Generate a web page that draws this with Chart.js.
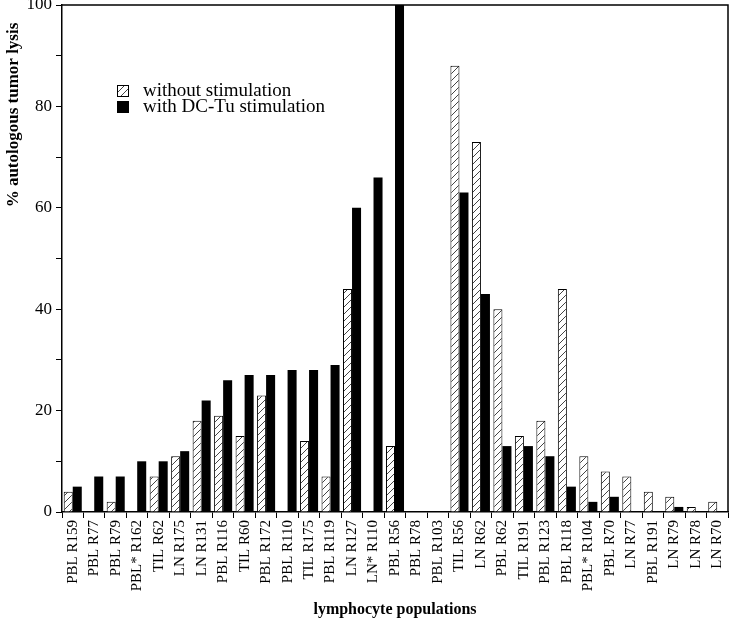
<!DOCTYPE html>
<html>
<head>
<meta charset="utf-8">
<script src="https://cdn.jsdelivr.net/npm/chart.js@4/dist/chart.umd.min.js"></script>
<style>
  html, body { margin: 0; padding: 0; background: #fff; }
  #wrap { width: 730px; height: 622px; }
</style>
</head>
<body>
<div id="wrap"><canvas id="lysis" width="730" height="622"></canvas></div>
<script>
// data
var populations = [
  "PBL R159", "PBL R77", "PBL R79", "PBL* R162", "TIL R62", "LN R175", "LN R131",
  "PBL R116", "TIL R60", "PBL R172", "PBL R110", "TIL R175", "PBL R119", "LN R127",
  "LN* R110", "PBL R56", "PBL R78", "PBL R103", "TIL R56", "LN R62", "PBL R62",
  "TIL R191", "PBL R123", "PBL R118", "PBL* R104", "PBL R70", "LN R77", "PBL R191",
  "LN R79", "LN R78", "LN R70"
];
var withoutStim = [4, 0, 2, 0, 7, 11, 18, 19, 15, 23, 0, 14, 7, 44, 0, 13, 0, 0,
                   88, 73, 40, 15, 18, 44, 11, 8, 7, 4, 3, 1, 2];
var withStim = [5, 7, 7, 10, 10, 12, 22, 26, 27, 27, 28, 28, 29, 60, 66, 100, 0, 0,
                63, 43, 13, 13, 11, 5, 2, 3, 0, 0, 1, 0, 0];
var seriesNames = ["without stimulation", "with DC-Tu stimulation"];

var serif = "'Liberation Serif', 'DejaVu Serif', serif";

function hatch() {
  var c = document.createElement('canvas');
  c.width = 7; c.height = 7;
  var g = c.getContext('2d');
  g.fillStyle = '#fff';
  g.fillRect(0, 0, 7, 7);
  g.strokeStyle = '#444';
  g.lineWidth = 1;
  g.beginPath();
  g.moveTo(-1, 8); g.lineTo(8, -1);
  g.stroke();
  return g.createPattern(c, 'repeat');
}
var hatchFill = hatch();

// box on top / right, legend and y title drawn inside the plot
var extras = {
  id: 'extras',
  afterDraw: function(chart) {
    var ctx = chart.ctx, a = chart.chartArea;
    ctx.save();
    ctx.strokeStyle = '#000';
    ctx.lineWidth = 1.5;
    ctx.beginPath();
    ctx.moveTo(a.left, a.top);
    ctx.lineTo(a.right, a.top);
    ctx.lineTo(a.right, a.bottom);
    ctx.stroke();

    var ds = chart.data.datasets;
    ctx.font = '19px ' + serif;
    ctx.textBaseline = 'middle';
    ctx.textAlign = 'left';
    for (var i = 0; i < ds.length; i++) {
      var y = 85 + i * 16;
      ctx.fillStyle = ds[i].backgroundColor;
      ctx.fillRect(117, y, 12, 12);
      ctx.strokeStyle = '#000';
      ctx.lineWidth = 1;
      ctx.strokeRect(117.5, y + 0.5, 11, 11);
      ctx.fillStyle = '#000';
      ctx.fillText(ds[i].label, 143, y + 6);
    }

    ctx.translate(14, 115);
    ctx.rotate(-Math.PI / 2);
    ctx.textAlign = 'center';
    ctx.textBaseline = 'middle';
    ctx.font = 'bold 17px ' + serif;
    ctx.fillText('% autologous tumor lysis', 0, 0);
    ctx.restore();
  }
};

new Chart(document.getElementById('lysis'), {
  type: 'bar',
  data: {
    labels: populations,
    datasets: [{
      label: seriesNames[0],
      data: withoutStim,
      backgroundColor: hatchFill,
      borderColor: '#000',
      borderWidth: 1,
      categoryPercentage: 0.84,
      barPercentage: 1.0
    }, {
      label: seriesNames[1],
      data: withStim,
      backgroundColor: '#000',
      borderColor: '#000',
      borderWidth: 0,
      categoryPercentage: 0.84,
      barPercentage: 1.0
    }]
  },
  options: {
    responsive: false,
    animation: false,
    layout: { padding: { top: 5, right: 2, left: 0, bottom: 0 } },
    plugins: { legend: { display: false }, tooltip: { enabled: false } },
    scales: {
      x: {
        afterFit: function(s) {
          s.height = 110;
          s.paddingLeft = 0; s.paddingRight = 0;
        },
        grid: { display: true, drawOnChartArea: false, offset: true, tickLength: 6, color: '#000', lineWidth: 1 },
        border: { color: '#000', width: 1.5 },
        ticks: {
          color: '#000', minRotation: 90, maxRotation: 90, autoSkip: false, padding: 2,
          font: { family: serif, size: 15 }
        },
        title: {
          display: true, text: 'lymphocyte populations', color: '#000',
          font: { family: serif, size: 16, weight: 'bold' },
          padding: { top: 0, bottom: 3 }
        }
      },
      y: {
        min: 0, max: 100,
        afterFit: function(s) {
          s.width = 62;
          s.paddingTop = 0; s.paddingBottom = 0;
        },
        grid: { display: true, drawOnChartArea: false, tickLength: 6, color: '#000', lineWidth: 1 },
        border: { color: '#000', width: 1.5 },
        ticks: {
          stepSize: 10, color: '#000', padding: 4,
          font: { family: serif, size: 17 },
          callback: function(v) { return v % 20 === 0 ? v : ''; }
        }
      }
    }
  },
  plugins: [extras]
});
</script>
</body>
</html>
